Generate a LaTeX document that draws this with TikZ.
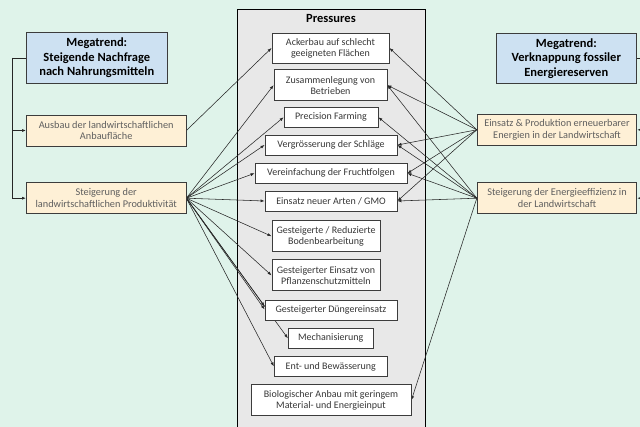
\documentclass[tikz,border=0pt]{standalone}
\usepackage{fontspec}
\setmainfont{Carlito}
\usetikzlibrary{arrows.meta,calc}
\definecolor{mint}{RGB}{223,243,234}
\definecolor{panelgray}{RGB}{232,232,232}
\definecolor{megablue}{RGB}{205,225,242}
\definecolor{peach}{RGB}{254,240,214}
\definecolor{boxline}{RGB}{60,60,60}
\definecolor{txtgray}{RGB}{95,95,95}
\definecolor{ptxt}{RGB}{55,55,55}
\pgfdeclarelayer{bg}
\pgfdeclarelayer{lines}
\pgfsetlayers{bg,lines,main}
\tikzset{
  mega/.style={draw=boxline, line width=0.9pt, fill=megablue, align=center, inner sep=0pt,
    font=\fontsize{12.5}{14.5}\selectfont\bfseries, text=black},
  driver/.style={draw=boxline, line width=0.9pt, fill=peach, align=center, inner sep=0pt,
    minimum width=159.5pt, minimum height=31pt, font=\fontsize{10.3}{11.5}\selectfont, text=txtgray},
  pbox/.style={draw=boxline, line width=0.9pt, fill=white, align=center, inner sep=0pt,
    font=\fontsize{10}{11}\selectfont, text=ptxt},
  conn/.style={draw=black!85, line width=0.55pt, -{Latex[length=4pt,width=3pt]}},
  brk/.style={draw=black!85, line width=0.7pt},
}
\begin{document}
\begin{tikzpicture}[x=1pt,y=-1pt]
\useasboundingbox (0,0) rectangle (640,427);
\begin{pgfonlayer}{bg}
\fill[mint] (0,0) rectangle (640,427);
\filldraw[fill=panelgray, draw=black, line width=0.9pt] (237.3,9) rectangle (425,440);
\end{pgfonlayer}
\node[font=\fontsize{12.5}{14}\selectfont\bfseries] (ptitle) at (331,18.5) {Pressures};

% left side
\node[mega, minimum width=141pt, minimum height=50.6pt] (mL) at (96.8,58) {Megatrend:\\Steigende Nachfrage\\nach Nahrungsmitteln};
\node[driver] (aus) at (106.2,130.5) {Ausbau der landwirtschaftlichen\\Anbaufläche};
\node[driver] (prod) at (106.2,198.2) {Steigerung der\\landwirtschaftlichen Produktivität};

% right side
\node[mega, minimum width=140.7pt, minimum height=50pt] (mR) at (566.3,58.3) {Megatrend:\\Verknappung fossiler\\Energiereserven};
\node[driver] (ern) at (557,129.8) {Einsatz \& Produktion erneuerbarer\\Energien in der Landwirtschaft};
\node[driver] (eff) at (557,198.2) {Steigerung der Energieeffizienz in\\der Landwirtschaft};

% pressures
\node[pbox, minimum width=117pt, minimum height=30pt] (p1) at (330.5,48) {Ackerbau auf schlecht\\geeigneten Flächen};
\node[pbox, minimum width=113pt, minimum height=31.5pt] (p2) at (330.5,85.2) {Zusammenlegung von\\Betrieben};
\node[pbox, minimum width=94pt, minimum height=20pt] (p3) at (331,117.3) {Precision Farming};
\node[pbox, minimum width=132pt, minimum height=20pt] (p4) at (331,145) {Vergrösserung der Schläge};
\node[pbox, minimum width=152pt, minimum height=20pt] (p5) at (331,173.3) {Vereinfachung der Fruchtfolgen};
\node[pbox, minimum width=132pt, minimum height=20pt] (p6) at (331,201) {Einsatz neuer Arten / GMO};
\node[pbox, minimum width=108pt, minimum height=31pt] (p7) at (326,236.2) {Gesteigerte / Reduzierte\\Bodenbearbeitung};
\node[pbox, minimum width=108pt, minimum height=31pt] (p8) at (326,275.4) {Gesteigerter Einsatz von\\Pflanzenschutzmitteln};
\node[pbox, minimum width=132pt, minimum height=19.5pt] (p9) at (331,310.4) {Gesteigerter Düngereinsatz};
\node[pbox, minimum width=85pt, minimum height=20pt] (p10) at (330.8,338.3) {Mechanisierung};
\node[pbox, minimum width=113pt, minimum height=19.5pt] (p11) at (330.8,366.4) {Ent- und Bewässerung};
\node[pbox, minimum width=160pt, minimum height=31.4pt] (p12) at (331,400) {Biologischer Anbau mit geringem\\Material- und Energieinput};

\coordinate (lb) at (12.3,58);
\coordinate (rb) at (643,58.3);

\begin{pgfonlayer}{lines}
% brackets
\draw[brk] (mL.west) -- (lb);
\draw[brk, -{Latex[length=4pt,width=3pt]}] (lb) |- (aus.west);
\draw[brk, -{Latex[length=4pt,width=3pt]}] (lb) |- (prod.west);
\draw[brk] (mR.east) -- (rb);
\draw[brk, -{Latex[length=4pt,width=3pt]}] (rb) |- (ern.east);
\draw[brk, -{Latex[length=4pt,width=3pt]}] (rb) |- (eff.east);
% left connectors
\draw[conn] (aus.east) -- (p1.west);
\draw[conn] (prod.east) -- (p2.west);
\draw[conn] (prod.east) -- (p3.west);
\draw[conn] (prod.east) -- (p4.west);
\draw[conn] (prod.east) -- (p5.west);
\draw[conn] (prod.east) -- (p6.west);
\draw[conn] (prod.east) -- (p7.west);
\draw[conn] (prod.east) -- (p8.west);
\draw[conn] (prod.east) -- ($(p9.north west)!0.3!(p9.south west)$);
\draw[conn] (prod.east) -- ($(p9.north west)!0.45!(p9.south west)$);
\draw[conn] (prod.east) -- (p10.west);
\draw[conn] (prod.east) -- (p11.west);
% right connectors
\draw[conn] (ern.west) -- (p1.east);
\draw[conn] (ern.west) -- (p2.east);
\draw[conn] (ern.west) -- (p4.east);
\draw[conn] (ern.west) -- (p5.east);
\draw[conn] (ern.west) -- (p6.east);
\draw[conn] (eff.west) -- (p2.east);
\draw[conn] (eff.west) -- (p3.east);
\draw[conn] (eff.west) -- (p4.east);
\draw[conn] (eff.west) -- (p5.east);
\draw[conn] (eff.west) -- (p6.east);
\draw[conn] (eff.west) -- (p12.east);
\end{pgfonlayer}
\end{tikzpicture}
\end{document}
